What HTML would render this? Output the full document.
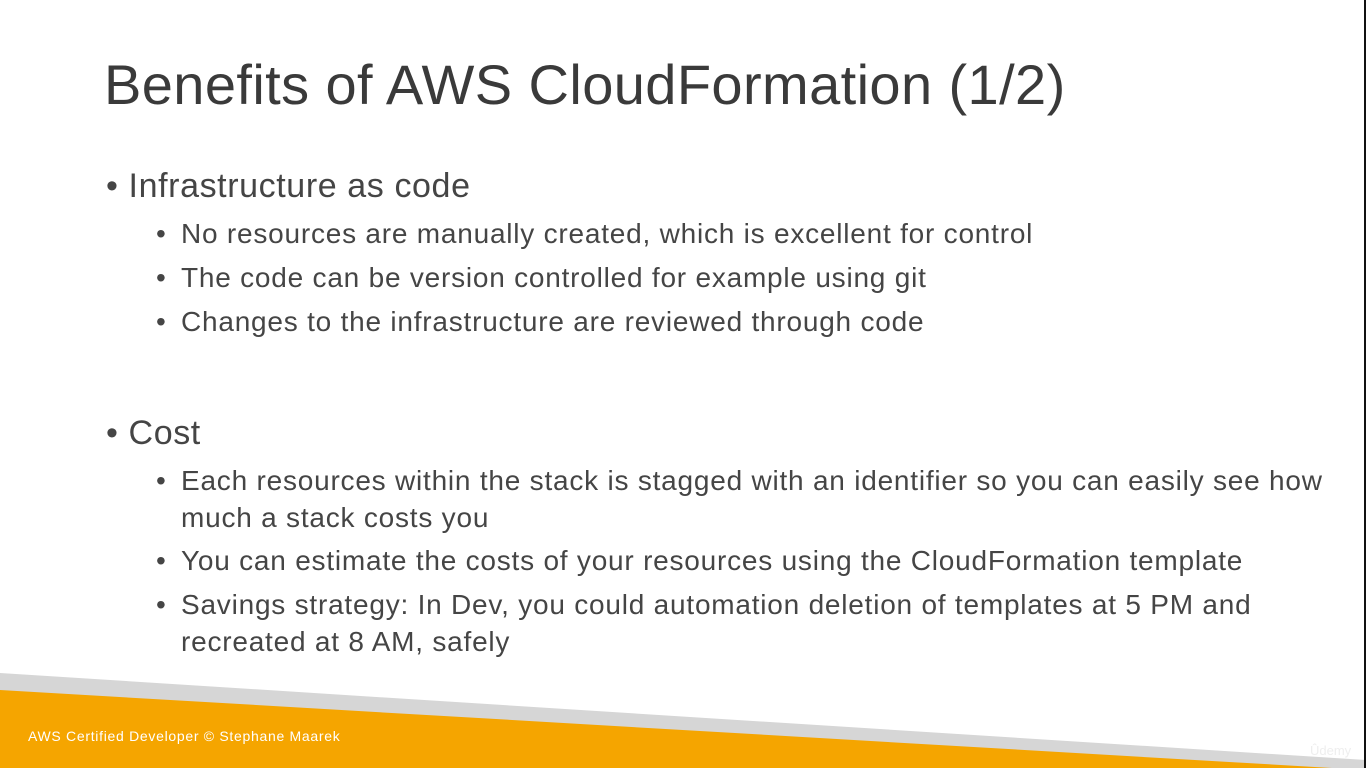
<!DOCTYPE html>
<html><head><meta charset="utf-8"><style>
html,body{margin:0;padding:0}
body{width:1366px;height:768px;position:relative;overflow:hidden;background:#fff;font-family:"Liberation Sans",sans-serif;color:#454545}
.t{position:absolute;white-space:nowrap}
h1{position:absolute;left:104px;top:52px;margin:0;font-weight:normal;font-size:56px;letter-spacing:0.4px;color:#3a3a3a}
.l1{font-size:34px;left:106px;letter-spacing:0.6px}
.l2{font-size:28px;left:181px;letter-spacing:0.78px}
.b{font-size:28px;left:156px}
</style></head><body>
<h1>Benefits of AWS CloudFormation (1/2)</h1>
<div class="t l1" style="top:167px">•&nbsp;Infrastructure as code</div>
<div class="t b" style="top:218px">•</div><div class="t l2" style="top:218px">No resources are manually created, which is excellent for control</div>
<div class="t b" style="top:262px">•</div><div class="t l2" style="top:262px">The code can be version controlled for example using git</div>
<div class="t b" style="top:306px">•</div><div class="t l2" style="top:306px">Changes to the infrastructure are reviewed through code</div>
<div class="t l1" style="top:414px">•&nbsp;Cost</div>
<div class="t b" style="top:465px">•</div><div class="t l2" style="top:465px">Each resources within the stack is stagged with an identifier so you can easily see how</div>
<div class="t l2" style="top:502px">much a stack costs you</div>
<div class="t b" style="top:545px">•</div><div class="t l2" style="top:545px">You can estimate the costs of your resources using the CloudFormation template</div>
<div class="t b" style="top:589px">•</div><div class="t l2" style="top:589px">Savings strategy: In Dev, you could automation deletion of templates at 5 PM and</div>
<div class="t l2" style="top:626px">recreated at 8 AM, safely</div>
<svg style="position:absolute;left:0;top:0" width="1366" height="768">
<polygon points="0,673 1366,760 1366,768 0,768" fill="#d6d6d6"/>
<polygon points="0,690 1366,770 1366,768 0,768" fill="#f5a500"/>
<rect x="1364" y="0" width="2" height="768" fill="#111"/>
</svg>
<div class="t" style="left:28px;top:728px;font-size:14px;letter-spacing:0.7px;color:#fff">AWS Certified Developer © Stephane Maarek</div>
<div class="t" style="left:1310px;top:743px;font-size:13px;color:#eee">Ûdemy</div>
</body></html>
